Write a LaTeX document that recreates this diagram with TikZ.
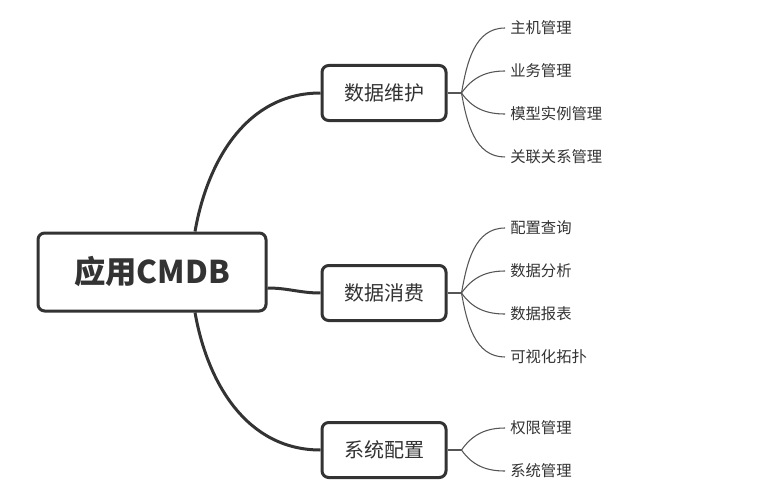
\documentclass[tikz,border=0pt]{standalone}
\usepackage{fontspec}
\setmainfont{Noto Sans CJK SC}
\usepackage{tikz}
\usetikzlibrary{calc}

\definecolor{ink}{HTML}{333333}
\definecolor{twig}{HTML}{555555}

\tikzset{
  rootbox/.style={draw=ink, line width=2.25pt, rounded corners=5pt, fill=white,
    minimum width=171pt, minimum height=58.5pt, text=ink,
    font=\fontsize{23.5}{23.5}\selectfont\bfseries},
  topic/.style={draw=ink, line width=2.25pt, rounded corners=5pt, fill=white,
    minimum width=93pt, minimum height=41.25pt, text=ink,
    font=\fontsize{15}{15}\selectfont},
  leaf/.style={anchor=west, inner xsep=3.75pt, inner ysep=0pt, text=ink,
    font=\fontsize{11.5}{11.5}\selectfont},
  branch/.style={draw=ink, line width=2.25pt},
  twigline/.style={draw=twig, line width=0.8pt}
}

\begin{document}
\begin{tikzpicture}[x=0.75pt,y=0.75pt]
\useasboundingbox (0,0) rectangle (766,501);

\node[rootbox] (app) at (152,229) {应用CMDB};
\node[topic] (maint) at (384,408) {数据维护};
\node[topic] (use) at (384,208) {数据消费};
\node[topic] (conf) at (384,51) {系统配置};

\draw[branch] ($(app.north)+(43,0)$) to[out=80,in=180] (maint.west);
\draw[branch] ($(app.east)+(0,-16)$) to[out=0,in=180] (use.west);
\draw[branch] ($(app.south)+(43,0)$) to[out=-80,in=180] (conf.west);

% leaves of maint
\node[leaf] (host) at (505,473) {主机管理};
\node[leaf] (biz) at (505,430) {业务管理};
\node[leaf] (model) at (505,387) {模型实例管理};
\node[leaf] (rel) at (505,344) {关联关系管理};
\draw[twigline] (maint.east) -- ++(14,0) coordinate (j1);
\draw[twigline] (j1) to[out=80,in=180] (host.west);
\draw[twigline] (j1) to[out=55,in=180] (biz.west);
\draw[twigline] (j1) to[out=-55,in=180] (model.west);
\draw[twigline] (j1) to[out=-80,in=180] (rel.west);

% leaves of use
\node[leaf] (query) at (505,273) {配置查询};
\node[leaf] (anal) at (505,230) {数据分析};
\node[leaf] (report) at (505,187) {数据报表};
\node[leaf] (topo) at (505,144) {可视化拓扑};
\draw[twigline] (use.east) -- ++(14,0) coordinate (j2);
\draw[twigline] (j2) to[out=80,in=180] (query.west);
\draw[twigline] (j2) to[out=55,in=180] (anal.west);
\draw[twigline] (j2) to[out=-55,in=180] (report.west);
\draw[twigline] (j2) to[out=-80,in=180] (topo.west);

% leaves of conf
\node[leaf] (perm) at (505,73) {权限管理};
\node[leaf] (sys) at (505,30) {系统管理};
\draw[twigline] (conf.east) -- ++(14,0) coordinate (j3);
\draw[twigline] (j3) to[out=55,in=180] (perm.west);
\draw[twigline] (j3) to[out=-55,in=180] (sys.west);

\end{tikzpicture}
\end{document}
